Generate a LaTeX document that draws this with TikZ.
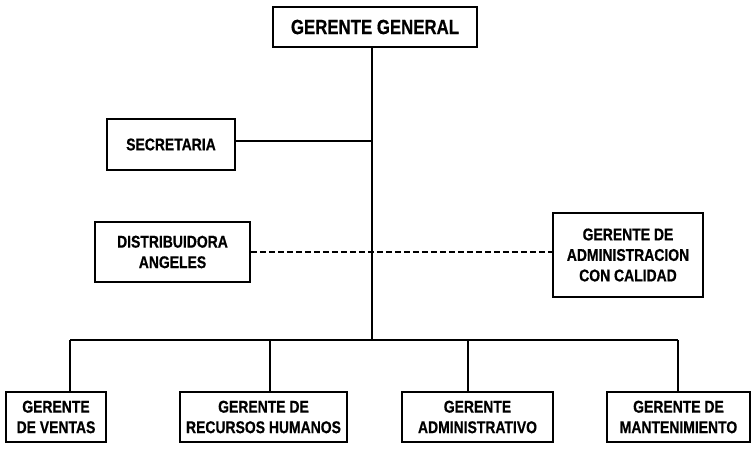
\documentclass[tikz,border=0pt]{standalone}
\usepackage{fontspec}
\setmainfont{Liberation Sans}
\newfontfamily\boxfont[FakeStretch=0.82,FakeBold=0.6]{Liberation Sans Bold}
\begin{document}
\begin{tikzpicture}[x=1pt,y=-1pt,
  orgbox/.style={draw,line width=1.8pt,inner sep=0pt,align=center,font=\boxfont\fontsize{17}{20.5}\selectfont},
  link/.style={line width=1.8pt},
  dashlink/.style={line width=1.8pt,dash pattern=on 6pt off 3pt}]
\useasboundingbox (0,0) rectangle (752,449);
% top of the chart
\node[orgbox,minimum width=204pt,minimum height=40pt,font=\boxfont\fontsize{20.5}{22}\selectfont] (gg) at (375,27) {GERENTE GENERAL};
% staff and advisory boxes
\node[orgbox,minimum width=128pt,minimum height=51pt] (sec) at (171,144.5) {SECRETARIA};
\node[orgbox,minimum width=155pt,minimum height=60pt] (dist) at (172.5,252) {DISTRIBUIDORA\\ANGELES};
\node[orgbox,minimum width=150pt,minimum height=84pt] (adm) at (628,255) {GERENTE DE\\ADMINISTRACION\\CON CALIDAD};
% line managers
\node[orgbox,minimum width=100pt,minimum height=50pt] (b1) at (56,417) {GERENTE\\DE VENTAS};
\node[orgbox,minimum width=167pt,minimum height=50pt] (b2) at (263.5,417) {GERENTE DE\\RECURSOS HUMANOS};
\node[orgbox,minimum width=151pt,minimum height=50pt] (b3) at (477.5,417) {GERENTE\\ADMINISTRATIVO};
\node[orgbox,minimum width=143pt,minimum height=50pt] (b4) at (678.5,417) {GERENTE DE\\MANTENIMIENTO};
% trunk and bus
\coordinate (top) at (372,47);
\coordinate (bus) at (372,340);
\coordinate (j1) at (70,340);
\coordinate (j2) at (270,340);
\coordinate (j3) at (468,340);
\coordinate (j4) at (678,340);
\coordinate (secj) at (372,141);
\draw[link] (top) -- (bus);
\draw[link] (j1) -- (j4);
\draw[link] (sec.east |- secj) -- (secj);
\draw[dashlink] (dist.east) -- (adm.west |- dist.east);
\draw[link] (j1) -- (j1 |- b1.north);
\draw[link] (j2) -- (j2 |- b2.north);
\draw[link] (j3) -- (j3 |- b3.north);
\draw[link] (j4) -- (j4 |- b4.north);
\end{tikzpicture}
\end{document}
